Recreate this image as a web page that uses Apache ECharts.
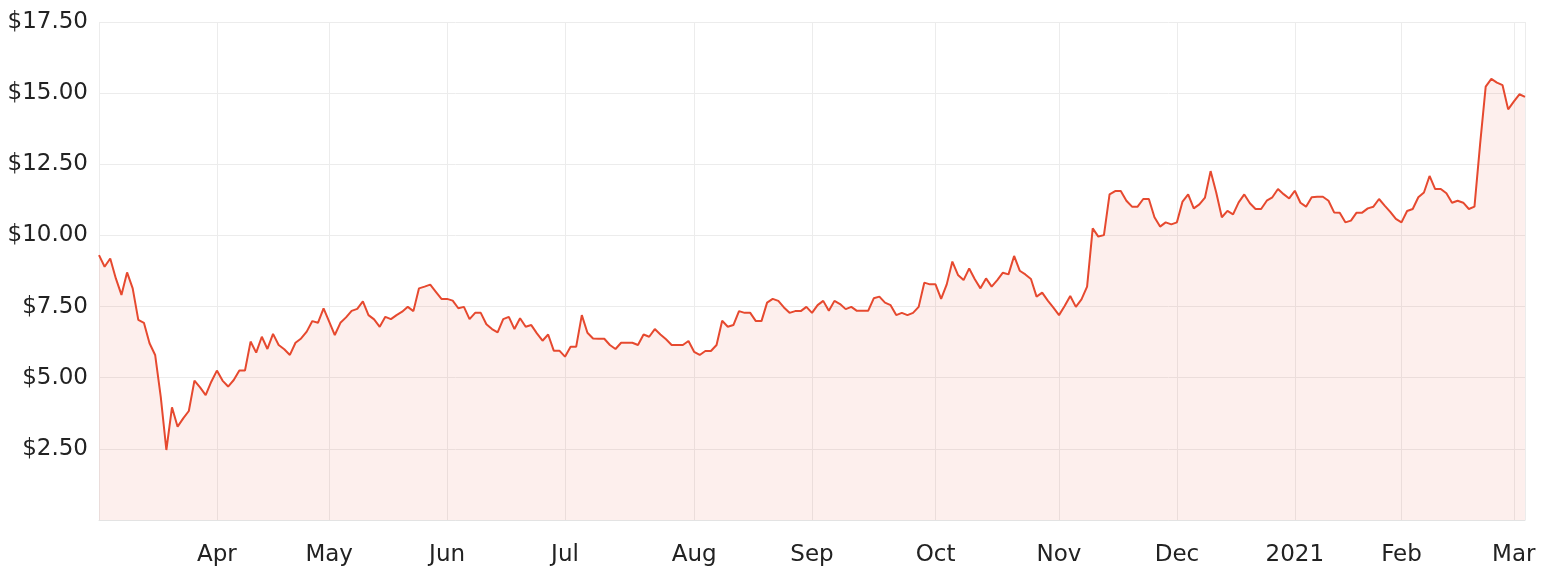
<!DOCTYPE html>
<html>
<head>
<meta charset="utf-8">
<script src="https://cdn.jsdelivr.net/npm/echarts@6/dist/echarts.min.js"></script>
<style>
html,body{margin:0;padding:0;background:#fff;}
#chart{width:1544px;height:578px;}
</style>
</head>
<body>
<div id="chart"></div>
<script>
// ASX trading calendar used for the category axis
const startDate = '2020-03-03';
const endDate = '2021-03-03';
const holidays = ['2020-04-10','2020-04-13','2020-06-08','2020-12-25','2020-12-28','2021-01-01','2021-01-26'];
const monthNames = ['Jan','Feb','Mar','Apr','May','Jun','Jul','Aug','Sep','Oct','Nov','Dec'];
const yTicks = [0, 2.5, 5, 7.5, 10, 12.5, 15, 17.5];

// closing prices (one per trading day)
const prices = [
9.31,8.90,9.19,8.49,7.91,8.70,8.14,7.03,6.93,6.21,
5.80,4.33,2.46,3.96,3.28,3.57,3.83,4.90,4.66,4.39,
4.86,5.25,4.90,4.69,4.92,5.25,5.25,6.27,5.88,6.44,
6.01,6.54,6.15,6.00,5.80,6.23,6.38,6.62,6.99,6.93,
7.44,6.97,6.50,6.93,7.12,7.35,7.42,7.68,7.20,7.05,
6.79,7.14,7.06,7.20,7.32,7.49,7.34,8.14,8.20,8.27,
8.02,7.77,7.77,7.71,7.44,7.49,7.06,7.28,7.28,6.88,
6.71,6.59,7.06,7.14,6.71,7.09,6.79,6.85,6.56,6.30,
6.52,5.95,5.95,5.74,6.09,6.09,7.20,6.58,6.38,6.37,
6.37,6.15,6.01,6.23,6.23,6.23,6.15,6.52,6.44,6.71,
6.52,6.35,6.15,6.15,6.15,6.29,5.91,5.80,5.94,5.94,
6.15,7.00,6.79,6.85,7.34,7.28,7.28,6.99,6.99,7.64,
7.77,7.70,7.47,7.28,7.34,7.34,7.49,7.28,7.55,7.70,
7.35,7.70,7.59,7.41,7.49,7.35,7.35,7.35,7.79,7.85,
7.64,7.55,7.20,7.28,7.20,7.28,7.49,8.34,8.28,8.28,
7.77,8.28,9.08,8.61,8.43,8.84,8.46,8.14,8.49,8.20,
8.43,8.69,8.63,9.28,8.76,8.63,8.47,7.85,7.99,7.71,
7.46,7.20,7.52,7.87,7.49,7.75,8.20,10.25,9.96,10.01,
11.44,11.56,11.56,11.22,11.01,11.01,11.28,11.28,10.64,10.31,
10.46,10.39,10.46,11.19,11.44,10.95,11.09,11.33,12.26,11.51,
10.64,10.86,10.74,11.16,11.44,11.13,10.93,10.93,11.22,11.34,
11.63,11.45,11.30,11.57,11.15,11.01,11.34,11.36,11.36,11.22,
10.81,10.80,10.46,10.52,10.80,10.80,10.95,11.01,11.28,11.05,
10.83,10.58,10.46,10.86,10.93,11.34,11.51,12.09,11.63,11.63,
11.48,11.15,11.22,11.15,10.93,11.01,13.2,15.23,15.50,15.37,
15.28,14.43,14.70,14.96,14.87
];

function pad(n){return (n<10?'0':'')+n;}
const dates = [];
(function(){
  const d = new Date(startDate + 'T00:00:00Z');
  const e = new Date(endDate + 'T00:00:00Z');
  while (d <= e) {
    const s = d.getUTCFullYear() + '-' + pad(d.getUTCMonth()+1) + '-' + pad(d.getUTCDate());
    const wd = d.getUTCDay();
    if (wd !== 0 && wd !== 6 && holidays.indexOf(s) < 0) dates.push(s);
    d.setUTCDate(d.getUTCDate()+1);
  }
})();

function isMonthStart(idx){
  if (idx === 0) return false;
  return dates[idx].slice(0,7) !== dates[idx-1].slice(0,7);
}

const chart = echarts.init(document.getElementById('chart'));
const txt = '#222222';
const gridColor = '#ececec';
const fontFam = '"DejaVu Sans", sans-serif';

chart.setOption({
  animation: false,
  grid: {left: 99, right: 19, top: 22, bottom: 58, containLabel: false},
  xAxis: {
    type: 'category',
    data: dates,
    boundaryGap: false,
    axisLine: {show: true, lineStyle: {color: '#e3e3e3', width: 1}},
    axisTick: {show: false},
    axisLabel: {
      interval: function(i){ return isMonthStart(i); },
      formatter: function(v){
        const m = parseInt(v.slice(5,7),10);
        return m === 1 ? v.slice(0,4) : monthNames[m-1];
      },
      color: txt, fontSize: 23, fontFamily: fontFam, margin: 24
    },
    splitLine: {
      show: true,
      interval: function(i){ return i === 0 || i === dates.length-1 || isMonthStart(i); },
      lineStyle: {color: gridColor, width: 1}
    }
  },
  yAxis: {
    type: 'value',
    min: yTicks[0],
    max: yTicks[yTicks.length-1],
    interval: 2.5,
    axisLine: {show: false},
    axisTick: {show: false},
    axisLabel: {
      formatter: function(v){ return v === 0 ? '' : '$' + v.toFixed(2); },
      color: txt, fontSize: 23, fontFamily: fontFam, margin: 11
    },
    splitLine: {show: true, lineStyle: {color: gridColor, width: 1}}
  },
  series: [{
    type: 'line',
    data: prices,
    showSymbol: false,
    symbol: 'none',
    lineStyle: {color: '#e6492f', width: 2},
    itemStyle: {color: '#e6492f'},
    areaStyle: {color: 'rgba(230,73,47,0.12)'}
  }]
});
</script>
</body>
</html>
